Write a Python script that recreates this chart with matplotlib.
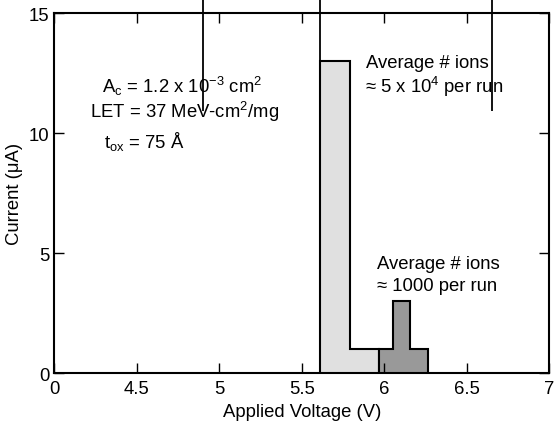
import matplotlib
matplotlib.use("Agg")
import matplotlib.pyplot as plt

plt.rcParams['font.family'] = ['Liberation Sans', 'DejaVu Sans']
plt.rcParams['mathtext.fontset'] = 'custom'
plt.rcParams['mathtext.rm'] = 'Liberation Sans'
plt.rcParams['mathtext.it'] = 'Liberation Sans'
plt.rcParams['mathtext.default'] = 'regular'

# data
light_edges = [5.61, 5.79, 5.97]
light_values = [13, 1]
dark_edges = [5.97, 6.05, 6.155, 6.265]
dark_values = [1, 3, 1]
marker_lines_x = [4.9, 5.61, 6.65]
marker_lines_ymin = 10.9
xticks = [4, 4.5, 5, 5.5, 6, 6.5, 7]
xtick_labels = ['0', '4.5', '5', '5.5', '6', '6.5', '7']
yticks = [0, 5, 10, 15]

fig = plt.figure(figsize=(5.55, 4.27), dpi=100)
ax = fig.add_axes([0.0973, 0.1241, 0.8927, 0.843])

ax.stairs(light_values, light_edges, fill=True, facecolor='#e0e0e0', edgecolor='none')
ax.stairs(light_values, light_edges, fill=False, edgecolor='black', linewidth=1.5, baseline=0)
ax.stairs(dark_values, dark_edges, fill=True, facecolor='#999999', edgecolor='none')
ax.stairs(dark_values, dark_edges, fill=False, edgecolor='black', linewidth=1.5, baseline=0)

ax.vlines(marker_lines_x, marker_lines_ymin, 15.7, colors='black', linewidth=1.3, clip_on=False, zorder=5)

fs = 13.3
ax.set_xlim(4, 7)
ax.set_ylim(0, 15)
ax.set_xticks(xticks)
ax.set_xticklabels(xtick_labels)
ax.set_yticks(yticks)
ax.tick_params(direction='in', length=7, width=1, top=True, right=True, labelsize=fs, colors='black')
ax.tick_params(axis='x', pad=5)
for s in ax.spines.values():
    s.set_linewidth(1.5)

ax.set_xlabel('Applied Voltage (V)', fontsize=fs, labelpad=4)
ax.set_ylabel('Current (μA)', fontsize=fs, labelpad=4)

ax.text(4.29, 12.0, r'A$_\mathrm{c}$ = 1.2 x 10$^{-3}$ cm$^2$', fontsize=fs, va='center', ha='left')
ax.text(4.22, 10.9, r'LET = 37 MeV-cm$^2$/mg', fontsize=fs, va='center', ha='left')
ax.text(4.30, 9.7, r't$_\mathrm{ox}$ = 75 Å', fontsize=fs, va='center', ha='left')

ax.text(5.89, 12.95, 'Average # ions', fontsize=fs, va='center', ha='left')
ax.text(5.885, 11.95, r'≈ 5 x 10$^4$ per run', fontsize=fs, va='center', ha='left')
ax.text(5.955, 4.55, 'Average # ions', fontsize=fs, va='center', ha='left')
ax.text(5.955, 3.65, '≈ 1000 per run', fontsize=fs, va='center', ha='left')

fig.savefig('out.png', dpi=100)
